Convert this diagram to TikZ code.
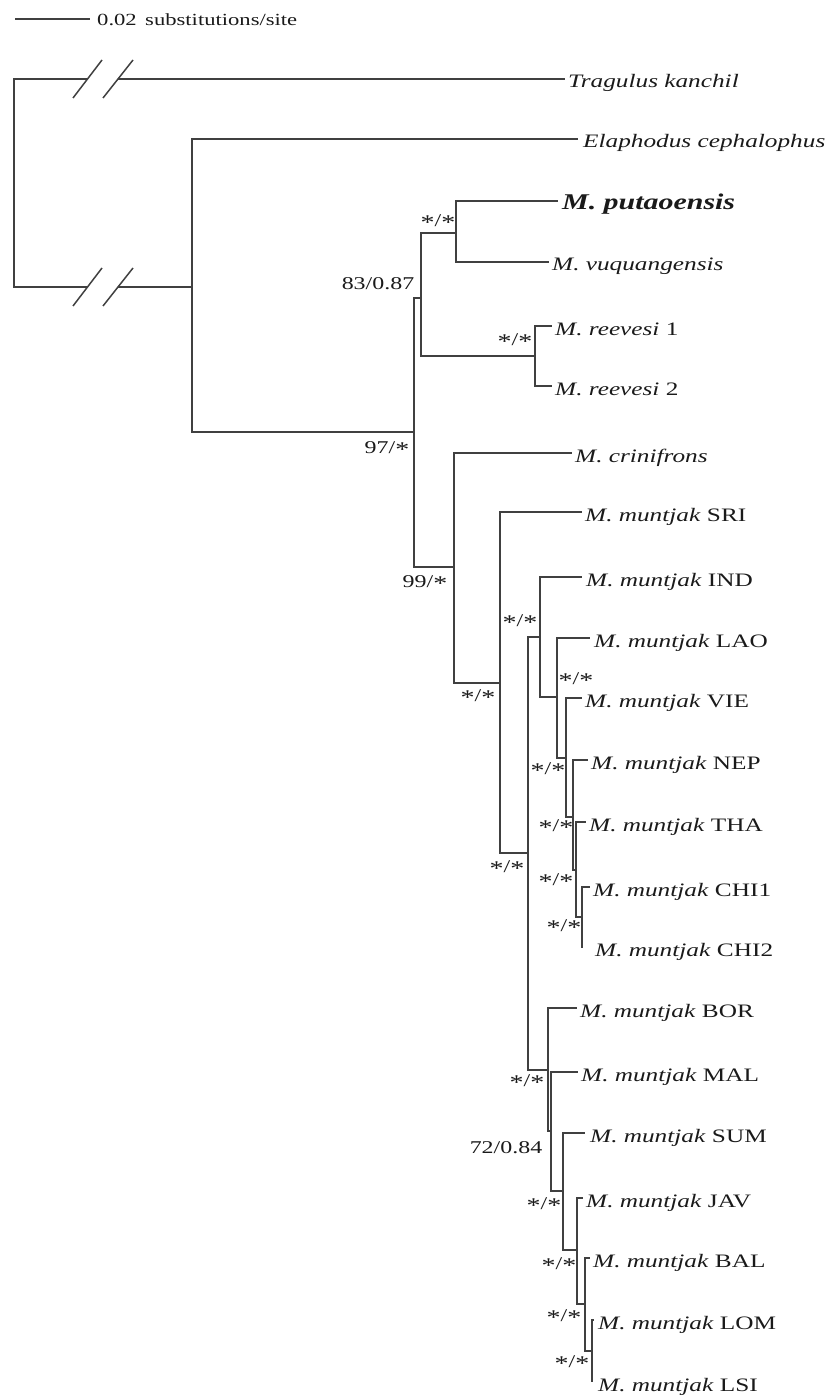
\documentclass[tikz,border=0pt]{standalone}
\usepackage{fontspec}
\setmainfont{Liberation Serif}[FakeStretch=1.33]
\usetikzlibrary{positioning}
\definecolor{TreeLine}{HTML}{404040}
\definecolor{TreeText}{HTML}{1A1A1A}
\newcommand\sstar{\raisebox{-0.35ex}{\fontsize{21}{21}\selectfont*}}
\newcommand\starstar{\sstar/\sstar}
\newcommand\mm[1]{\textit{M. muntjak} #1}
\tikzset{branch/.style={draw=TreeLine,line width=1.5pt},
 taxon/.style={anchor=base west,inner sep=0pt,yshift=-9pt,text=TreeText,font=\fontsize{19}{22}\selectfont},
 support/.style={inner sep=0pt,text=TreeText,font=\fontsize{18}{21}\selectfont}}

\begin{document}
\begin{tikzpicture}[x=1pt,y=-1pt]
\useasboundingbox (0,0) rectangle (830,1396);
% scale bar
\coordinate (bar0) at (15,19);
\coordinate (bar1) at (90,19);
\draw[branch] (bar0) -- (bar1);
\node[support,anchor=base west,yshift=-7pt,font=\fontsize{17}{20}\selectfont] (barlab) at (97,19) {0.02\enspace substitutions/site};
% internal nodes
\coordinate (root) at (14,183);
\coordinate (nEla) at (192,287);
\coordinate (n97) at (414,432);
\coordinate (n83) at (421,298);
\coordinate (nPV) at (456,233);
\coordinate (nRee) at (535,356);
\coordinate (n99) at (454,567);
\coordinate (nSRI) at (500,683);
\coordinate (nB) at (528,853);
\coordinate (nIND) at (540,637);
\coordinate (nLAO) at (557,697);
\coordinate (nVIE) at (566,758);
\coordinate (nNEP) at (573,817);
\coordinate (nTHA) at (576,870);
\coordinate (nCHI) at (582,917);
\coordinate (nA) at (548,1070);
\coordinate (nMAL) at (551,1131);
\coordinate (nSUM) at (563,1191);
\coordinate (nJAV) at (577,1250);
\coordinate (nBAL) at (585,1304);
\coordinate (nLOM) at (592,1351);
% broken outgroup branches
\coordinate (cutT1) at (87,79);
\coordinate (cutT2) at (118,79);
\coordinate (cutE1) at (87,287);
\coordinate (cutE2) at (118,287);
\coordinate (tTra) at (565,79);
\draw[branch] (root) |- (cutT1);
\draw[branch] (cutT2) -- (tTra);
\draw[branch] (root) |- (cutE1);
\draw[branch] (cutE2) -- (nEla);
\foreach \a/\b in {cutT1/cutT2,cutE1/cutE2}
 \draw[branch] (\a) ++(-14,19) -- ++(29,-38) (\b) ++(-15,19) -- ++(30,-38);
\node[taxon] (tTra-lab) at (568,79) {\textit{Tragulus kanchil}};
% inner branches
\foreach \p/\c in {nEla/n97,n97/n83,n97/n99,n83/nPV,n83/nRee,n99/nSRI,nSRI/nB,
 nB/nIND,nB/nA,nIND/nLAO,nLAO/nVIE,nVIE/nNEP,nNEP/nTHA,nTHA/nCHI,
 nA/nMAL,nMAL/nSUM,nSUM/nJAV,nJAV/nBAL,nBAL/nLOM}
 \draw[branch] (\p) |- (\c);
% tips
\coordinate (tPut) at (558,201);
\draw[branch] (nPV) |- (tPut);
\node[taxon,font=\bfseries\itshape\fontsize{22.5}{26}\selectfont] (tPut-lab) at (562,201) {M. putaoensis};
\foreach \p/\id/\tx/\lx/\ty/\txt in {
 nEla/tEla/578/583/139/\textit{Elaphodus cephalophus},
 nPV/tVuq/549/552/262/\textit{M. vuquangensis},
 nRee/tRee1/552/555/326/\textit{M. reevesi} 1,
 nRee/tRee2/552/555/386/\textit{M. reevesi} 2,
 n99/tCri/572/575/453/\textit{M. crinifrons},
 nSRI/tSRI/582/585/512/\mm{SRI},
 nIND/tIND/582/586/577/\mm{IND},
 nLAO/tLAO/590/594/638/\mm{LAO},
 nVIE/tVIE/582/585/698/\mm{VIE},
 nNEP/tNEP/588/591/760/\mm{NEP},
 nTHA/tTHA/586/589/822/\mm{THA},
 nCHI/tCHI1/590/593/887/\mm{CHI1},
 nCHI/tCHI2/583/595/947/\mm{CHI2},
 nA/tBOR/577/580/1008/\mm{BOR},
 nMAL/tMAL/578/581/1072/\mm{MAL},
 nSUM/tSUM/585/590/1133/\mm{SUM},
 nJAV/tJAV/583/586/1198/\mm{JAV},
 nBAL/tBAL/590/593/1258/\mm{BAL},
 nLOM/tLOM/594/598/1320/\mm{LOM},
 nLOM/tLSI/592/598/1382/\mm{LSI}}{
 \coordinate (\id) at (\tx,\ty);
 \draw[branch] (\p) |- (\id);
 \node[taxon] (\id-lab) at (\lx,\ty) {\txt};
}
% support values
\node[support] (bs83) at (378,284) {83/0.87};
\node[support] (bs97) at (387,449) {97/\sstar};
\node[support] (bs99) at (425,583) {99/\sstar};
\node[support] (bs72) at (506,1148) {72/0.84};
\foreach \x/\y in {438/222,515/341,478/697,520/622,576/680,507/868,548/770,556/827,
 556/881,564/927,527/1082,544/1205,559/1265,564/1317,572/1363}
 \node[support] at (\x,\y) {\starstar};
\end{tikzpicture}
\end{document}
